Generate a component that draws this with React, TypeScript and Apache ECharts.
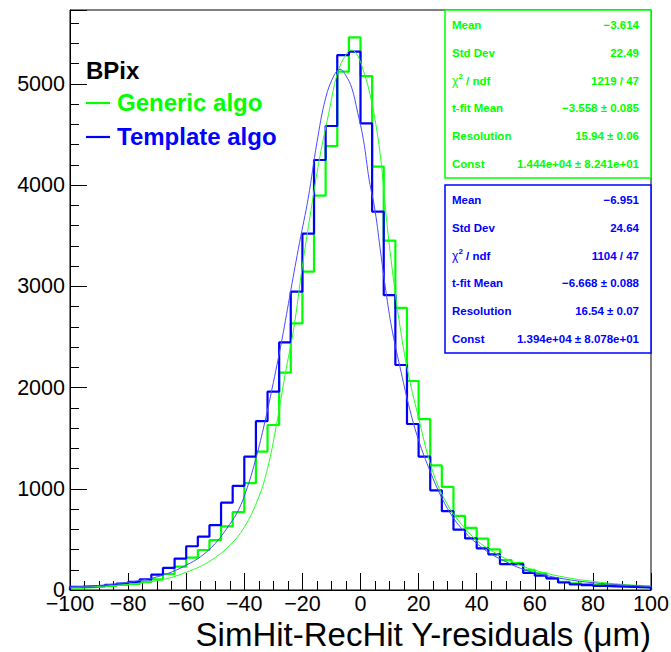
import React, { useEffect, useRef } from "react";
import * as echarts from "echarts";

// ---- data -------------------------------------------------------------
const BIN_MIN = -100;
const BIN_WIDTH = 4;

// 50 bins of 4 µm from -100 to 100
const genericCounts = [
  22, 28, 32, 40, 50, 60, 78, 105, 158, 230,
  320, 395, 492, 628, 770, 1056, 1367, 1630, 2147, 2635,
  3145, 3896, 4386, 5121, 5460, 5078, 4183, 3452, 2787, 2065,
  1689, 1232, 1018, 732, 614, 507, 402, 296, 265, 198,
  165, 115, 80, 66, 58, 48, 42, 36, 30, 26,
];
const templateCounts = [
  30, 36, 42, 50, 62, 80, 105, 152, 218, 310,
  432, 527, 640, 863, 1029, 1317, 1668, 1959, 2447, 2947,
  3520, 4248, 4584, 5285, 5318, 4610, 3738, 2914, 2223, 1640,
  1317, 985, 779, 596, 510, 412, 352, 256, 256, 170,
  142, 115, 74, 56, 49, 40, 36, 32, 28, 25,
];

// fitted curves
const genericFitX = [-100, -90, -80, -70, -65, -60, -55, -50, -45, -40, -35, -32, -29, -26, -23, -20, -17, -14, -11, -8, -5, -3, -1, 1, 3, 5, 7, 9, 11, 13, 16, 20, 25, 30, 35, 40, 45, 50, 55, 60, 70, 80, 90, 100];
const genericFitY = [25, 36, 56, 92, 125, 175, 235, 320, 440, 620, 920, 1200, 1620, 2120, 2580, 3200, 3760, 4280, 4700, 5100, 5290, 5335, 5280, 5130, 4930, 4650, 4250, 3650, 3150, 2720, 2200, 1700, 1160, 840, 640, 490, 390, 310, 245, 195, 128, 85, 56, 40];
const templateFitX = [-100, -90, -80, -75, -70, -65, -60, -55, -50, -45, -42, -39, -36, -33, -30, -27, -24, -21, -18, -15, -12, -9, -7, -5, -3, -1, 1, 3, 5, 7, 9, 11, 14, 17, 20, 24, 28, 32, 36, 40, 45, 50, 55, 60, 70, 80, 90, 100];
const templateFitY = [30, 45, 75, 100, 130, 178, 245, 330, 460, 650, 790, 1010, 1300, 1650, 2050, 2480, 2960, 3430, 3870, 4420, 4860, 5090, 5144, 5080, 4960, 4720, 4450, 4050, 3750, 3320, 2900, 2550, 2150, 1780, 1480, 1170, 910, 710, 570, 460, 355, 280, 215, 170, 110, 72, 50, 36];

const xTickValues = [-100, 100];
const yMaxValue = 5730;

const legendTitle = "BPix";
const legendNames = ["Generic algo", "Template algo"];
const xTitle = "SimHit-RecHit Y-residuals (\u03bcm)";

const genericStats = [
  ["Mean", "\u22123.614"],
  ["Std Dev", "22.49"],
  ["CHI", "1219 / 47"],
  ["t-fit Mean", "\u22123.558 \u00b1 0.085"],
  ["Resolution", "15.94 \u00b1 0.06"],
  ["Const", "1.444e+04 \u00b1 8.241e+01"],
];
const templateStats = [
  ["Mean", "\u22126.951"],
  ["Std Dev", "24.64"],
  ["CHI", "1104 / 47"],
  ["t-fit Mean", "\u22126.668 \u00b1 0.088"],
  ["Resolution", "16.54 \u00b1 0.07"],
  ["Const", "1.394e+04 \u00b1 8.078e+01"],
];

const GREEN = "#00ff00";
const BLUE = "#0000ff";
const FONT = "'Liberation Sans', Arial, Helvetica, sans-serif";

function stepData(counts: number[]) {
  const pts: number[][] = [[BIN_MIN, 0]];
  counts.forEach((c, i) => pts.push([BIN_MIN + i * BIN_WIDTH, c]));
  const end = BIN_MIN + counts.length * BIN_WIDTH;
  pts.push([end, counts[counts.length - 1]]);
  pts.push([end, 0]);
  return pts;
}

function zip(xs: number[], ys: number[]) {
  return xs.map((x, i) => [x, ys[i]]);
}

function statBox(top: number, color: string, rows: string[][]) {
  const left = 445;
  const right = 651;
  const els: any[] = [
    {
      type: "rect",
      shape: { x: left, y: top, width: right - left, height: 168 },
      style: { fill: "#fff", stroke: color, lineWidth: 1.5 },
      z: 100,
    },
  ];
  rows.forEach((r, i) => {
    const y = top + 15 + i * 27.8;
    const base = {
      fill: color,
      fontSize: 11.5,
      fontWeight: "bold",
      fontFamily: FONT,
      verticalAlign: "middle",
      textVerticalAlign: "middle",
    };
    if (r[0] === "CHI") {
      els.push({ type: "text", x: 452, y, z: 101, style: { ...base, text: "\u03c7", fontWeight: "normal", fontSize: 12 } });
      els.push({ type: "text", x: 458.5, y: y - 4, z: 101, style: { ...base, text: "2", fontSize: 8 } });
      els.push({ type: "text", x: 466, y, z: 101, style: { ...base, text: "/ ndf" } });
    } else {
      els.push({ type: "text", x: 452, y, z: 101, style: { ...base, text: r[0], align: "left", textAlign: "left" } });
    }
    els.push({ type: "text", x: 639, y, z: 101, style: { ...base, text: r[1], align: "right", textAlign: "right" } });
  });
  return els;
}

export default function App() {
  const ref = useRef<HTMLDivElement>(null);
  useEffect(() => {
    if (!ref.current) return;
    const chart = echarts.init(ref.current, undefined, { renderer: "svg" });
    const axisLabelStyle = { color: "#000", fontSize: 21.5, fontFamily: FONT };
    const option: any = {
      animation: false,
      backgroundColor: "#fff",
      grid: {
        left: 70,
        right: 20,
        top: 10,
        bottom: 62,
        show: true,
        borderColor: "#000",
        borderWidth: 1,
        containLabel: false,
        outerBoundsMode: "none",
      },
      xAxis: [
        {
          type: "value",
          min: xTickValues[0],
          max: xTickValues[1],
          interval: 20,
          position: "bottom",
          axisLine: { show: true, onZero: false, lineStyle: { color: "#000", width: 1 } },
          axisTick: { show: true, inside: true, length: 17, lineStyle: { color: "#000", width: 1 } },
          axisLabel: {
            ...axisLabelStyle,
            margin: 3,
            formatter: (v: number) => String(v).replace("-", "\u2212"),
          },
          splitLine: { show: false },
        },
        {
          type: "value",
          min: xTickValues[0],
          max: xTickValues[1],
          interval: 5,
          position: "bottom",
          axisLine: { show: false, onZero: false },
          axisTick: { show: true, inside: true, length: 9, lineStyle: { color: "#000", width: 1 } },
          axisLabel: { show: false },
          splitLine: { show: false },
        },
      ],
      yAxis: [
        {
          type: "value",
          min: 0,
          max: yMaxValue,
          interval: 1000,
          position: "left",
          axisLine: { show: true, onZero: false, lineStyle: { color: "#000", width: 1 } },
          axisTick: { show: true, inside: true, length: 17, lineStyle: { color: "#000", width: 1 } },
          axisLabel: {
            ...axisLabelStyle,
            margin: 5,
            formatter: (v: number) => (v % 1000 === 0 ? String(v) : ""),
          },
          splitLine: { show: false },
        },
        {
          type: "value",
          min: 0,
          max: yMaxValue,
          interval: 200,
          position: "left",
          axisLine: { show: false, onZero: false },
          axisTick: { show: true, inside: true, length: 9, lineStyle: { color: "#000", width: 1 } },
          axisLabel: { show: false },
          splitLine: { show: false },
        },
      ],
      series: [
        {
          type: "line",
          name: legendNames[0],
          xAxisIndex: 0,
          yAxisIndex: 0,
          data: stepData(genericCounts),
          step: "end",
          symbol: "none",
          lineStyle: { color: GREEN, width: 2.2 },
          z: 2,
        },
        {
          type: "line",
          name: legendNames[1],
          xAxisIndex: 0,
          yAxisIndex: 0,
          data: stepData(templateCounts),
          step: "end",
          symbol: "none",
          lineStyle: { color: BLUE, width: 2.2 },
          z: 3,
        },
        {
          type: "line",
          xAxisIndex: 0,
          yAxisIndex: 0,
          data: zip(genericFitX, genericFitY),
          smooth: 0.4,
          symbol: "none",
          lineStyle: { color: "#22ff22", width: 1 },
          z: 4,
        },
        {
          type: "line",
          xAxisIndex: 0,
          yAxisIndex: 0,
          data: zip(templateFitX, templateFitY),
          smooth: 0.4,
          symbol: "none",
          lineStyle: { color: "#4a4aff", width: 1 },
          z: 5,
        },
      ],
      graphic: [
        {
          type: "text",
          x: 86,
          y: 70,
          z: 50,
          style: { text: legendTitle, fill: "#000", fontSize: 24, fontWeight: "bold", fontFamily: FONT, verticalAlign: "middle", textVerticalAlign: "middle" },
        },
        { type: "line", z: 50, shape: { x1: 86, y1: 103, x2: 110, y2: 103 }, style: { stroke: GREEN, lineWidth: 2.2 } },
        {
          type: "text",
          x: 117,
          y: 102,
          z: 50,
          style: { text: legendNames[0], fill: GREEN, fontSize: 24, fontWeight: "bold", fontFamily: FONT, verticalAlign: "middle", textVerticalAlign: "middle" },
        },
        { type: "line", z: 50, shape: { x1: 86, y1: 137, x2: 110, y2: 137 }, style: { stroke: BLUE, lineWidth: 2.2 } },
        {
          type: "text",
          x: 117,
          y: 136,
          z: 50,
          style: { text: legendNames[1], fill: BLUE, fontSize: 24, fontWeight: "bold", fontFamily: FONT, verticalAlign: "middle", textVerticalAlign: "middle" },
        },
        {
          type: "text",
          x: 651,
          y: 634,
          z: 50,
          style: { text: xTitle, fill: "#000", fontSize: 33, fontFamily: FONT, align: "right", textAlign: "right", verticalAlign: "middle", textVerticalAlign: "middle" },
        },
        ...statBox(10, GREEN, genericStats),
        ...statBox(185, BLUE, templateStats),
      ],
    };
    chart.setOption(option);
    return () => chart.dispose();
  }, []);
  return (
    <div
      ref={ref}
      style={{ position: "fixed", left: 0, top: 0, width: 671, height: 652, background: "#fff" }}
    />
  );
}
